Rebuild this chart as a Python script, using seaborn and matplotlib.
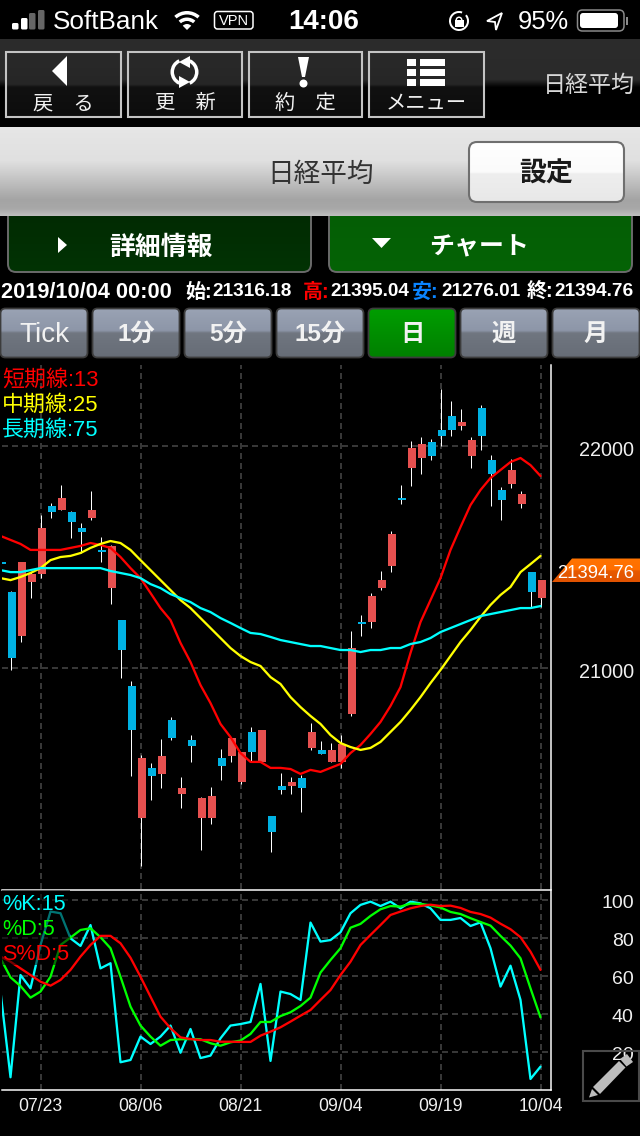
import numpy as np
import pandas as pd
import seaborn as sns
import matplotlib
matplotlib.use("Agg")
import matplotlib.pyplot as plt
from matplotlib.patches import Rectangle, Polygon, FancyBboxPatch, Wedge, Circle
from matplotlib.transforms import ScaledTranslation

# ---------- data ----------
OPEN = [21477,21342,21144,21387,21423,21730,21712,21703,21631,21676,21532,21360,21216,20919,20324,20550,20523,20766,
        20432,20676,20324,20324,20595,20604,20486,20712,20577,20333,20468,20468,20505,20640,20631,20577,20577,20793,
        21207,21207,21360,21459,21766,21901,21946,22018,22072,22135,22090,21955,22171,21937,21802,21829,21739,21432,21316.18]
HIGH = [21482,21347,21477,21432,21689,21743,21824,21707,21653,21797,21590,21554,21216,20941,20608,20572,20680,20779,
        20509,20698,20419,20464,20635,20685,20622,20734,20721,20333,20527,20509,20518,20752,20671,20662,20698,21167,
        21239,21338,21437,21617,21824,22023,22041,22032,22257,22203,22167,22041,22185,21959,21815,21941,21797,21432,21395.04]
LOW = [21460,20991,21117,21315,21405,21676,21712,21586,21518,21667,21477,21288,20955,20514,20108,20405,20459,20676,
       20369,20577,20180,20297,20495,20577,20477,20577,20577,20171,20432,20432,20351,20631,20613,20577,20550,20784,
       21144,21180,21351,21432,21739,21820,21874,21937,22000,22045,22072,21901,21982,21730,21667,21811,21721,21275,21276.01]
CLOSE = [21468,21045,21477,21423,21631,21703,21766,21658,21613,21712,21523,21550,21081,20721,20595,20514,20604,20685,
         20459,20649,20414,20423,20559,20685,20622,20622,20721,20261,20450,20486,20459,20712,20613,20631,20658,21090,
         21198,21324,21396,21604,21757,21991,22009,21955,22045,22072,22108,22027,22045,21874,21757,21892,21784,21342,21394.76]
MA13 = [21595,21577,21559,21532,21532,21532,21532,21541,21550,21563,21554,21541,21500,21450,21405,21338,21270,21216,
        21113,21027,20923,20842,20748,20689,20617,20577,20577,20550,20550,20545,20523,20541,20532,20550,20568,20617,
        20653,20703,20757,20829,20914,21068,21207,21306,21405,21532,21635,21734,21802,21856,21892,21928,21946,21914,21865]
MA25 = [21405,21396,21410,21428,21450,21486,21500,21505,21518,21541,21559,21572,21563,21532,21486,21441,21396,21351,
        21306,21270,21225,21180,21135,21090,21054,21027,21009,20959,20928,20869,20824,20784,20748,20698,20662,20644,
        20631,20640,20667,20712,20757,20811,20869,20932,20991,21054,21117,21171,21230,21284,21329,21365,21432,21468,21505]
MA75 = [21441,21432,21432,21441,21450,21450,21450,21450,21450,21450,21450,21437,21428,21419,21405,21378,21360,21333,
        21315,21297,21270,21252,21225,21203,21180,21158,21153,21140,21126,21117,21108,21099,21099,21090,21081,21081,
        21072,21081,21081,21090,21090,21108,21117,21135,21162,21180,21198,21216,21234,21243,21252,21261,21270,21270,21279]
PCT_K = [51.8,6.7,60.5,53.5,76.3,93.9,93,79.8,75.8,86.8,64,66.7,14.6,15.8,28.1,24.2,28.1,33.9,19.6,32.1,16.8,18.1,27.2,
         33.9,34.7,35.8,55.8,15.3,51.8,50.5,47.4,88.1,78.1,78.9,83,93,97.4,99.1,96.8,99.1,95.6,99.1,98.2,95.6,89.5,89.5,
         90.5,86.3,88.2,74.6,54.4,65.4,47.4,5.8,12.3]
PCT_D = [69.3,59.3,54.7,48.6,51.8,59.6,76.3,80.2,84.2,85.1,80.4,74.6,59.6,43.9,33.9,28.1,23.3,26.3,26.7,26.8,26.7,24.6,
         23.3,25.1,26,29.5,35.8,35.8,38.9,40.9,44.2,48.6,61.8,68.4,74.6,85.4,87.4,91.6,95.1,96.8,96.5,98.1,97.9,97.2,96,
         93.7,92.6,90.4,88.4,86.5,81.1,76,69.3,53.5,38.2]
SLOW_D = [70.2,67.5,64,60.5,57,54.9,57.9,63.2,70.2,76.3,81.1,81.1,77.2,69.6,59.6,49.1,38.6,32.5,27.7,26.8,26.3,26.3,25.4,
          25.4,25.3,25.3,28.6,30.7,33,36,39.1,42.1,47.4,52.6,60.5,67.5,76.3,81.6,86.8,92.1,93.9,95.6,96.8,97.5,96.8,97,
          95.8,93.7,92.6,90.7,87.5,84.6,80.4,72.8,63.2]
DATE_LABELS = ["07/23", "08/06", "08/21", "09/04", "09/19", "10/04"]
DATE_POS = [4, 14, 24, 34, 44, 54]
PRICE_TICKS = [21000, 22000]
STOCH_TICKS = [20, 40, 60, 80, 100]
LAST_PRICE = "21394.76"

# ---------- theme ----------
sns.set_theme(style="dark", rc={
    "figure.facecolor": "black", "axes.facecolor": "black", "savefig.facecolor": "black",
    "lines.scale_dashes": False, "axes.grid": True,
})
plt.rcParams["font.family"] = ["Liberation Sans", "Noto Sans CJK JP", "DejaVu Sans"]

W, H = 640, 1136
PX = 0.72
fig = plt.figure(figsize=(W / 100, H / 100), dpi=100, facecolor="black")

def rect_px(x0, y0, x1, y1):
    return [x0 / W, 1 - y1 / H, (x1 - x0) / W, (y1 - y0) / H]

RED, BLUE = "#e6504f", "#00b2e3"
C_GRID = "#4a4a4a"
LW = 2.3 * PX
x = np.arange(len(CLOSE))

# ---------- price panel ----------
ax = fig.add_axes(rect_px(2, 365, 550.5, 889), zorder=1)
ax.set_xlim(0.15, 55.0)
ax.set_ylim(20004.5, 22365)
op, hi, lo, cl = map(np.array, (OPEN, HIGH, LOW, CLOSE))
ax.vlines(x, lo, hi, color="white", lw=1 * PX, zorder=2)
ax.bar(x + 0.15, cl - op, bottom=op, width=0.8, linewidth=0,
       color=[RED if c >= o else BLUE for o, c in zip(op, cl)], zorder=3)
ma = pd.DataFrame({"i": np.tile(x, 3), "v": MA13 + MA25 + MA75,
                   "s": ["13"] * 55 + ["25"] * 55 + ["75"] * 55})
sns.lineplot(data=ma, x="i", y="v", hue="s", palette=["#ff0000", "#ffff00", "#00ffff"],
             estimator=None, sort=False, legend=False, lw=LW, ax=ax, zorder=4)
ax.set_xlabel(""); ax.set_ylabel("")
ax.set_xticks(DATE_POS); ax.tick_params(axis="x", labelbottom=False, length=0)
ax.yaxis.tick_right()
ax.set_yticks(PRICE_TICKS)
ax.set_yticklabels([str(t) for t in PRICE_TICKS], fontsize=14.3, color="#f0f0f0", ha="right")
ax.tick_params(axis="y", length=0, pad=60)
ax.set_axisbelow(True)
ax.grid(True, color=C_GRID, lw=1.5 * PX, ls=(0, (6 * PX, 4 * PX)))
for s in ("left", "top", "bottom"):
    ax.spines[s].set_visible(False)
ax.spines["right"].set_color("white"); ax.spines["right"].set_linewidth(1.5 * PX)
for i, (t, c) in enumerate(zip(["短期線:13", "中期線:25", "長期線:75"], ["#ff0000", "#ffff00", "#00ffff"])):
    ax.text(0, 1 - (15 + 25 * i) / 524, t, transform=ax.transAxes, color=c, fontsize=15.8, va="center", ha="left", zorder=6)

# ---------- stochastic panel ----------
ax2 = fig.add_axes(rect_px(2, 889.5, 550.5, 1090), zorder=1)
ax2.set_xlim(0.15, 55.0)
ax2.set_ylim(0, 105.5)
st = pd.DataFrame({"i": np.tile(x, 3), "v": PCT_K + PCT_D + SLOW_D,
                   "s": ["K"] * 55 + ["D"] * 55 + ["S"] * 55})
sns.lineplot(data=st, x="i", y="v", hue="s", palette=["#00ffff", "#00ff00", "#ff0000"],
             estimator=None, sort=False, legend=False, lw=LW, ax=ax2, zorder=3)
ax2.set_xlabel(""); ax2.set_ylabel("")
ax2.set_xticks(DATE_POS)
ax2.set_xticklabels(DATE_LABELS, fontsize=12.7, color="#f0f0f0")
ax2.tick_params(axis="x", length=0, pad=6)
ax2.yaxis.tick_right()
ax2.set_yticks(STOCH_TICKS)
ax2.set_yticklabels([str(t) for t in STOCH_TICKS], fontsize=14, color="#f0f0f0", ha="right")
ax2.tick_params(axis="y", length=0, pad=60)
ax2.set_axisbelow(True)
ax2.grid(True, color=C_GRID, lw=1.5 * PX, ls=(0, (6 * PX, 4 * PX)))
ax2.spines["left"].set_visible(False)
for s in ("top", "bottom", "right"):
    ax2.spines[s].set_color("white"); ax2.spines[s].set_linewidth(1.5 * PX)
ax2.add_patch(Rectangle((0, 1 - 75 / 200.5), 68 / 548.5, 75 / 200.5, transform=ax2.transAxes,
                        facecolor="black", alpha=0.55, lw=0, zorder=5))
for i, (t, c) in enumerate(zip(["%K:15", "%D:5", "S%D:5"], ["#00ffff", "#00ff00", "#ff0000"])):
    ax2.text(0, 1 - (15.5 + 24.5 * i) / 200.5, t, transform=ax2.transAxes, color=c, fontsize=15.6, va="center", ha="left", zorder=6)

# tick labels sit a little under their grid lines
for a in (ax, ax2):
    for lab in a.get_yticklabels():
        lab.set_transform(lab.get_transform() + ScaledTranslation(0, -2 / 100, fig.dpi_scale_trans))

# ---------- app chrome (pixel coordinates) ----------
ui = fig.add_axes([0, 0, 1, 1], zorder=2)
ui.patch.set_alpha(0)
ui.axis("off")

def hexrgb(h):
    return np.array(matplotlib.colors.to_rgb(h))

def grad(x0, y0, x1, y1, stops, clip=None, z=1):
    ys = np.linspace(0, 1, 256)
    pos = [s[0] for s in stops]
    cols = np.array([hexrgb(s[1]) for s in stops])
    arr = np.stack([np.interp(ys, pos, cols[:, k]) for k in range(3)], axis=1)[:, None, :]
    im = ui.imshow(arr, extent=(x0, x1, y1, y0), aspect="auto", interpolation="bilinear", zorder=z)
    if clip is not None:
        ui.add_patch(clip)
        im.set_clip_path(clip)
    return im

def rbox(x0, y0, x1, y1, r, **kw):
    return FancyBboxPatch((x0 + r, y0 + r), x1 - x0 - 2 * r, y1 - y0 - 2 * r,
                          boxstyle=f"round,pad={r},rounding_size={r}", **kw)

def txt(xp, yp, s, size, color="white", ha="center", bold=False, z=5):
    ui.text(xp, yp + 0.14 * size, s, fontsize=size, color=color, ha=ha, va="center",
            fontweight="bold" if bold else "normal", zorder=z)

# status bar
for x0, y0, c in [(12, 23, "white"), (21, 18, "white"), (29, 13, "#666666"), (38, 10, "#666666")]:
    ui.add_patch(rbox(x0, y0, x0 + 6.5, 29.5, 1.5, fc=c, ec="none", zorder=4))
txt(53, 19, "SoftBank", 18.8, ha="left")
for r, w in [(19, 3.5), (12.5, 3.5)]:
    ui.add_patch(Wedge((187, 30), r, 228, 312, width=w, fc="white", ec="none", zorder=4))
ui.add_patch(Wedge((187, 30), 6, 225, 315, fc="white", ec="none", zorder=4))
ui.add_patch(rbox(214.5, 11.5, 253, 29, 3, fc="black", ec="white", lw=1.1, zorder=4))
txt(233.7, 19.5, "VPN", 10.5)
txt(324, 19, "14:06", 20, bold=True)
ui.add_patch(Wedge((459, 21), 10, 320, 290, width=2, fc="white", ec="none", zorder=4))
ui.add_patch(Rectangle((454.5, 20), 9, 7, fc="white", ec="none", zorder=4))
ui.add_patch(Wedge((459, 20), 3.5, 180, 360, width=1.5, fc="white", ec="none", zorder=4))
ui.add_patch(Polygon([(502, 13), (487, 21), (495, 22), (496, 30)], closed=True, fc="black", ec="white", lw=1.3, zorder=4))
txt(518, 19.5, "95%", 18.4, ha="left")
ui.add_patch(rbox(577.5, 10, 624, 31, 5, fc="black", ec="#8a8a8a", lw=1.1, zorder=4))
ui.add_patch(rbox(580, 13, 618, 28, 3, fc="white", ec="none", zorder=5))
ui.add_patch(Rectangle((626, 16.5), 2, 8, fc="#8a8a8a", ec="none", zorder=4))

# toolbar
grad(0, 39, 640, 127, [(0, "#2c2c2c"), (0.46, "#2a2a2a"), (0.55, "#000000"), (1, "#000000")])
BTN = [(5.5, 121), (128, 242), (248.5, 362), (368.5, 484)]
for x0, x1 in BTN:
    grad(x0, 52, x1, 117, [(0, "#2a2a2a"), (0.5, "#262626"), (0.54, "#111111"), (1, "#0d0d0d")], z=1.5)
    ui.add_patch(Rectangle((x0, 52), x1 - x0, 65, fc="none", ec="#c4c4c4", lw=1.5, zorder=3))
for (x0, x1), t in zip(BTN, ["戻　る", "更　新", "約　定", "メニュー"]):
    txt((x0 + x1) / 2, 101.5, t, 14.6, color="#f2f2f2")
ui.add_patch(Polygon([(52, 71), (67, 56), (67, 86)], closed=True, fc="white", ec="none", zorder=4))
for th1, th2 in [(115, 245), (295, 65)]:
    ui.add_patch(Wedge((184.5, 72), 14, th1, th2, width=3.5, fc="white", ec="none", zorder=4))
ui.add_patch(Polygon([(179, 62), (190, 56), (190, 68)], closed=True, fc="white", ec="none", zorder=4))
ui.add_patch(Polygon([(190, 82), (179, 88), (179, 76)], closed=True, fc="white", ec="none", zorder=4))
ui.add_patch(Polygon([(298, 57), (309, 57), (305, 77), (302, 77)], closed=True, fc="white", ec="none", zorder=4))
ui.add_patch(Circle((303.5, 83.5), 4, fc="white", ec="none", zorder=4))
for y0 in (59, 69, 79):
    ui.add_patch(Rectangle((407, y0), 9, 6.5, fc="white", ec="none", zorder=4))
    ui.add_patch(Rectangle((420, y0), 25, 6.5, fc="white", ec="none", zorder=4))
txt(589, 83, "日経平均", 16.6, color="#d8d8d8")

# tabs (their tops run under the gray band)
for (x0, x1, top, bot) in [(8, 311, "#012b02", "#023304"), (329, 632, "#045e05", "#056306")]:
    grad(x0, 216, x1, 272, [(0, top), (1, bot)], clip=rbox(x0, 206, x1, 272, 8, fc="none", ec="none"))
    ui.add_patch(rbox(x0, 206, x1, 272, 8, fc="none", ec="#6a6a6a", lw=1.4, zorder=2))
ui.add_patch(Polygon([(58, 237), (67, 245), (58, 253)], closed=True, fc="white", ec="none", zorder=4))
txt(160.5, 245, "詳細情報", 18.6, bold=True)
ui.add_patch(Polygon([(372, 238), (391, 238), (381.5, 248)], closed=True, fc="white", ec="none", zorder=4))
txt(479, 245, "チャート", 18, bold=True)

# gray title band
grad(0, 127, 640, 216, [(0, "#e6e6e6"), (0.38, "#e0e0e0"), (0.82, "#a4a4a4"), (0.92, "#a8a8a8"), (1, "#c0c0c0")], z=2.5)
txt(320.5, 172, "日経平均", 19.2, color="#333333")
grad(469, 142, 624, 202, [(0, "#ffffff"), (0.5, "#fbfbfb"), (0.53, "#eeeeee"), (1, "#e8e8e8")],
     clip=rbox(469, 142, 624, 202, 8, fc="none", ec="none"), z=3)
ui.add_patch(rbox(469, 142, 624, 202, 8, fc="none", ec="#6f6f6f", lw=1.5, zorder=4))
txt(546, 172, "設定", 19.4, color="#1a1a1a", bold=True)

# info line
for xp, s, size, c in [(1, "2019/10/04 00:00", 15.7, "white"),
                       (185, "始:", 14.4, "white"), (212, "21316.18", 13.7, "white"),
                       (303, "高:", 14.4, "#ff0000"), (330, "21395.04", 13.7, "white"),
                       (412, "安:", 14.4, "#0a84ff"), (441, "21276.01", 13.7, "white"),
                       (527, "終:", 14.4, "white"), (554, "21394.76", 13.7, "white")]:
    txt(xp, 290, s, size, color=c, ha="left", bold=True)

# time-frame buttons
TF = [(0, 88, "Tick", 20), (92, 180, "1分", 17.5), (184, 272, "5分", 17.5), (276, 364, "15分", 17.5),
      (368, 456, "日", 17.5), (460, 548, "週", 17.5), (552, 640, "月", 17.5)]
for x0, x1, t, s in TF:
    active = t == "日"
    ui.add_patch(rbox(x0 + 0.5, 308.5, x1 - 0.5, 357.5, 5, fc="none", ec="#3c3c3c", lw=1.3, zorder=3))
    stops = ([(0, "#009e00"), (1, "#007f00")] if active else
             [(0, "#9aa3b4"), (0.45, "#8d96a8"), (0.5, "#707680"), (1, "#666c76")])
    grad(x0, 308, x1, 358, stops, clip=rbox(x0 + 0.5, 308.5, x1 - 0.5, 357.5, 5, fc="none", ec="none"))
    txt((x0 + x1) / 2, 332, t, s, color="#f2f2f2", bold=t != "Tick")

# last price tag
tag = Polygon([(552, 582), (572, 558.5), (640, 558.5), (640, 582)], closed=True, fc="none", ec="none")
grad(552, 558.5, 640, 582, [(0, "#ff7400"), (0.5, "#ff6e00"), (0.52, "#e85a00"), (1, "#e05200")], clip=tag)
txt(596, 572, LAST_PRICE, 13.3, color="#ffffff")

# pencil button
ui.add_patch(Rectangle((583, 1051), 56, 49.5, fc="none", ec="#4a4a4a", lw=1.5, zorder=4))
G = "#bdbdbd"
ui.add_patch(Polygon([(589, 1097.5), (592, 1089), (598, 1095)], closed=True, fc=G, ec="none", zorder=6))
ui.add_patch(Polygon([(593, 1087), (619, 1061), (625.5, 1067.5), (600, 1094)], closed=True, fc=G, ec="none", zorder=6))
ui.add_patch(Polygon([(620, 1059), (627, 1054), (633, 1062), (626.5, 1066.5)], closed=True, fc=G, ec="none", zorder=6))

ui.set_xlim(0, W)
ui.set_ylim(H, 0)

fig.savefig("out.png", dpi=100, facecolor="black")
